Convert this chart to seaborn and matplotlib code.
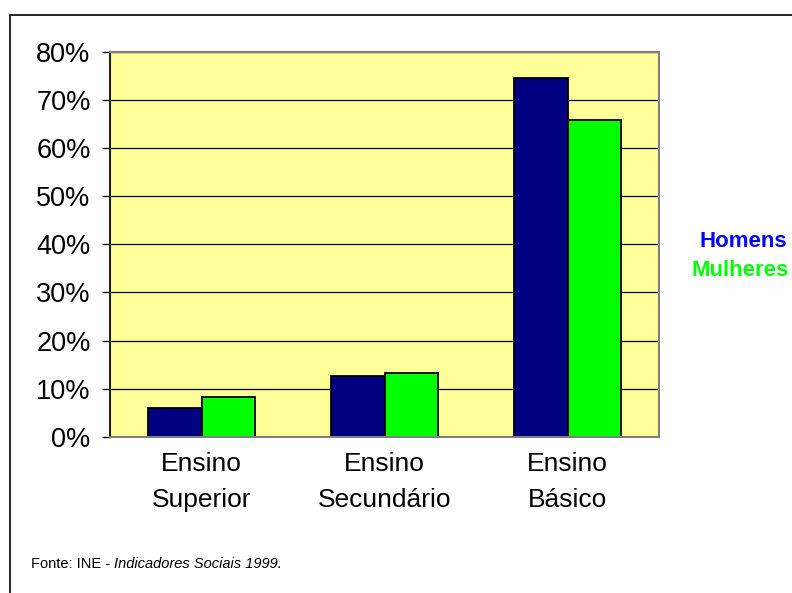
import matplotlib
matplotlib.use("Agg")
import matplotlib.pyplot as plt
import seaborn as sns
import pandas as pd
from matplotlib.patches import Rectangle

categories = ["Ensino\nSuperior", "Ensino\nSecundário", "Ensino\nBásico"]
homens = [5.9, 12.6, 74.5]
mulheres = [8.3, 13.3, 65.8]
series_names = ["Homens", "Mulheres"]
yticks = [0, 10, 20, 30, 40, 50, 60, 70, 80]
ytick_labels = ["0%", "10%", "20%", "30%", "40%", "50%", "60%", "70%", "80%"]
source_plain = "Fonte: INE - "
source_italic = "Indicadores Sociais 1999."

df = pd.DataFrame({
    "categoria": categories * 2,
    "valor": homens + mulheres,
    "sexo": [series_names[0]] * 3 + [series_names[1]] * 3,
})

sns.set_theme(style="white")
plt.rcParams["font.family"] = ["Liberation Sans", "DejaVu Sans"]
plt.rcParams["text.color"] = "black"
plt.rcParams["xtick.color"] = "black"
plt.rcParams["ytick.color"] = "black"

W, H = 792, 593
fig = plt.figure(figsize=(W / 100, H / 100), dpi=100)
ax = fig.add_axes([110 / W, 1 - 436.7 / H, (659 - 110) / W, (436.7 - 52) / H])

colors = {"Homens": "#000080", "Mulheres": "#00FF00"}
sns.barplot(data=df, x="categoria", y="valor", hue="sexo", order=categories,
            hue_order=series_names, palette=colors, width=0.58, gap=0,
            edgecolor="black", linewidth=1.3, saturation=1, ax=ax,
            legend=False, zorder=3)

ax.set_facecolor("#FFFF99")
ax.set_ylim(0, 80)
ax.set_xlim(-0.5, 2.5)
ax.set_yticks(yticks)
ax.set_yticklabels(ytick_labels, fontsize=19.5, color="black")
ax.set_xticks(range(len(categories)))
ax.set_xticklabels(categories, fontsize=19, linespacing=1.65, color="black")
ax.tick_params(axis="y", left=True, length=6, width=1, color="black", pad=8)
ax.tick_params(axis="x", bottom=False, length=0, pad=11)
ax.set_xlabel("")
ax.set_ylabel("")
for y in yticks[1:]:
    ax.axhline(y, color="black", linewidth=0.9, zorder=1)

for s in ["top", "right", "bottom"]:
    ax.spines[s].set_color("#808080")
    ax.spines[s].set_linewidth(1.5)
ax.spines["left"].set_color("#202020")
ax.spines["left"].set_linewidth(1.5)
for s in ax.spines.values():
    s.set_visible(True)
    s.set_zorder(4)

# legend texts
fig.text(787 / W, 1 - 242 / H, "Homens", color="#0000FF", fontsize=16,
         fontweight="bold", ha="right", va="center")
fig.text(789 / W, 1 - 271 / H, "Mulheres", color="#00FF00", fontsize=16,
         fontweight="bold", ha="right", va="center")

# source
t1 = fig.text(31 / W, 1 - 564 / H, source_plain, fontsize=10.5, ha="left", va="center")
fig.canvas.draw()
bb = t1.get_window_extent()
fig.text(bb.x1 / W, 1 - 564 / H, source_italic, fontsize=10.5, style="italic",
         ha="left", va="center")

# outer border
fig.add_artist(Rectangle((10 / W, -0.1), 1.2, 1 - 15 / H + 0.1,
                         transform=fig.transFigure, fill=False,
                         edgecolor="black", linewidth=1.2, clip_on=False))

fig.savefig("out.png", dpi=100, facecolor="white")
